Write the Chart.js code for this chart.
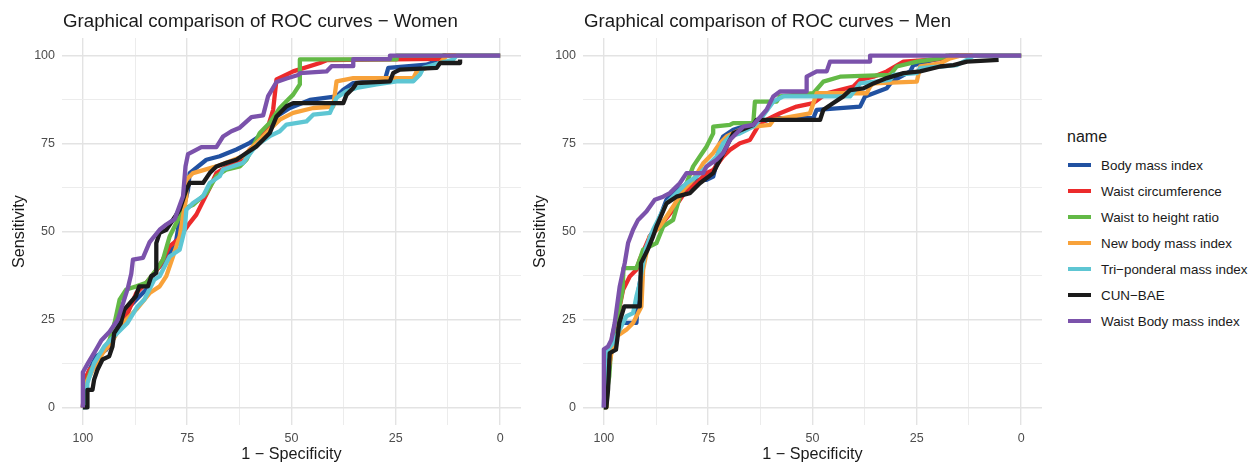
<!DOCTYPE html>
<html>
<head>
<meta charset="utf-8">
<script src="https://cdn.jsdelivr.net/npm/chart.js@4.4.0/dist/chart.umd.min.js"></script>
<style>
  body { margin: 0; background: #fff; font-family: "Liberation Sans", Arial, sans-serif; }
  #wrap { position: relative; width: 1255px; height: 465px; overflow: hidden; }
  canvas { position: absolute; top: 0; }
  #women { left: 0; }
  #men { left: 525px; }
  #legend { position: absolute; left: 1067px; top: 0; color: #1a1a1a; }
  #legend .ttl { position: absolute; top: 127px; left: 0; font-size: 16px; line-height: 20px; white-space: nowrap; }
  #legend .item { position: absolute; left: 1px; height: 26px; line-height: 26px; font-size: 13.4px; white-space: nowrap; }
  #legend .key { display: inline-block; width: 23px; height: 4px; vertical-align: middle; margin-right: 10px; position: relative; top: -1px; }
</style>
</head>
<body>
<div id="wrap">
  <canvas id="women" width="525" height="465"></canvas>
  <canvas id="men" width="525" height="465"></canvas>
  <div id="legend"></div>
</div>
<script>
// series names and colours (legend order)
const names = ["Body mass index", "Waist circumference", "Waist to height ratio",
  "New body mass index", "Tri\u2212ponderal mass index", "CUN\u2212BAE", "Waist Body mass index"];
const colors = ["#2151a1", "#ec2a2b", "#63b946", "#f8a23a", "#5ec6d3", "#1b1b1b", "#7b52ab"];

// axis ticks (labels every 25, grid every 12.5)
const gridSteps = [0, 12.5, 25, 37.5, 50, 62.5, 75, 87.5, 100];

// [specificity, sensitivity] points - Women
const womenBMI = [[100,0],[99.6,6.9],[98.4,10.7],[96.8,14.5],[94.4,16.4],[92.8,20.2],[91.2,24],[88.8,28.7],[86.4,31.6],[84.8,33.5],[82.4,39.1],[80,42],[77.6,47.7],[76.8,53.4],[75.6,58.1],[74.8,61.9],[74.4,66.6],[70.4,70.4],[67.2,71.4],[63.2,73.3],[60,75.2],[57.6,77.1],[53.6,82.7],[50.4,85.1],[45.6,87.4],[39.2,88.4],[37.6,90.3],[35.2,92.2],[27.6,93.2],[26.8,96.5],[17.6,97.4],[14.4,98.9],[13.6,100],[0,100]];
const womenWC = [[100,0],[99.6,7.9],[98.4,10.7],[96.8,12.6],[95.2,16.4],[93.6,17.3],[91.6,22.1],[89.6,25.9],[87.2,32.5],[84.8,35.4],[81.6,40.1],[79.2,45.8],[77.2,47.7],[74.4,52.4],[72.8,54.8],[69.6,62.4],[68,66.6],[64,69.5],[61.6,70.4],[60,73.3],[57.6,76.1],[55.6,79.9],[54.4,84.6],[53.6,93.2],[49.6,95.5],[43.2,97.9],[41.6,98.7],[25.6,98.9],[14.4,99.1],[13.6,100],[0,100]];
const womenWHtR = [[100,0],[99.2,6.9],[98,10.7],[96,14.5],[93.6,19.2],[92.4,24],[91.2,30.6],[89.6,33.5],[87.2,34.4],[84.8,35.4],[82.4,39.1],[80.8,42],[79.2,48.6],[77.6,52.4],[76,56.2],[73.6,57.6],[70.4,60.9],[68,65.7],[65.6,67.6],[62.4,68.5],[60.8,70.4],[59.2,74.2],[57.6,78],[55.2,80.9],[52.8,85.1],[49.6,88.9],[48,91.8],[48,98.9],[24.8,98.9],[24.8,100],[0,100]];
const womenNBMI = [[100,0],[99.2,6.9],[97.6,10.7],[95.2,15.5],[92.8,19.2],[90.4,24],[87.2,27.8],[84,32.5],[81.6,34.4],[80,37.3],[78.4,42.9],[76.8,48.6],[76,54.3],[75.2,60],[75.2,64.7],[73.6,66.6],[68,68.5],[61.6,71.4],[57.6,76.1],[54.4,79.9],[52.8,81.8],[49.6,83.7],[44.8,85.1],[40,85.5],[39.2,92.7],[35.2,93.6],[20.8,93.6],[20,95.5],[14.4,97.9],[12.8,100],[0,100]];
const womenTPMI = [[100,0],[99.2,0],[98.9,6.9],[97.3,12.6],[94.9,17.3],[92.5,20.2],[89.3,24],[86.9,28.7],[85.3,30.6],[82.9,36.3],[81.6,37.3],[79.2,42.9],[76.8,44.8],[75.6,50.5],[75.2,56.2],[73.6,58.1],[71.2,60],[69.6,63.8],[67.2,65.7],[66.4,67.6],[61.6,69.5],[59.2,73.3],[57.6,75.2],[55.2,77.1],[52.8,78.5],[51.2,80.4],[46.4,81.3],[44.8,83.2],[40.8,83.7],[39.2,88],[36.8,89.9],[34.4,90.8],[29.6,91.8],[24.8,92.7],[20.8,92.7],[19.2,94.6],[18.4,96.5],[14.4,97.9],[11.2,98.9],[10.4,100],[0,100]];
const womenCUN = [[100,0],[98.9,0],[98.9,5],[97.7,5],[97.3,7.9],[96.5,10.7],[95.3,13.6],[93.7,14.5],[92.9,17.3],[92.5,21.1],[90.9,24],[90.1,27.8],[87.3,31.6],[86.5,34.4],[84.4,34.4],[83.6,37.3],[82.4,38.2],[82.4,46.7],[81.6,49.6],[80,50.5],[76.8,56.2],[76,59.1],[75.2,61.9],[74.4,63.8],[71.2,63.8],[69.6,66.6],[68,68.5],[65.6,69.5],[63.2,70.4],[60.8,72.3],[58.4,74.2],[56.8,76.1],[55.2,78],[53.6,82.7],[51.2,85.6],[49.6,86.5],[37.6,86.5],[36.8,88.9],[35.2,90.8],[34.4,92.2],[26.4,92.7],[25.6,95.1],[24,96],[15.2,96.5],[14.4,97.9],[9.6,97.9],[9.6,98.9]];
const womenWBMI = [[100,0],[100,10],[98.8,12.5],[96.8,16.5],[95.6,19],[93.6,21.5],[91.6,25],[89.2,34],[88.4,38],[88,42],[85.6,42.5],[84,47],[81.6,50.5],[80,52],[78,53.5],[76,60],[75.4,68.5],[74.8,72],[71.6,74],[68,74],[66.4,77],[64.4,78.5],[62.4,79.5],[59.6,82.5],[56.8,83],[55.6,88.5],[53.6,92.5],[51.2,93.5],[48.4,94.5],[48,95],[41.6,95.5],[40.4,97],[35.2,97],[35.2,99],[26.4,99],[26.4,100],[0,100]];

// Men
const menBMI = [[100,0],[99.8,7.9],[99,12.6],[98.2,18.3],[97,22.1],[95.4,24],[92.2,24],[91.8,32.5],[90.6,41],[89,48.6],[87.4,51.4],[85,59],[83.4,60.9],[81,62.8],[77.8,64.7],[75.4,64.7],[73.8,65.6],[73,69.4],[72.2,75.1],[71.4,77],[69,78.9],[66.6,79.8],[64.2,80.3],[61.8,81.3],[59.4,82.2],[49.8,82.2],[49,84.6],[38.6,85.5],[37.4,88.4],[32.2,90.7],[31,92.6],[26.6,95.5],[25.8,97.3],[21,98.8],[15.4,100],[0,100]];
const menWC = [[100,0],[99.8,0],[99.4,5],[98.6,12.6],[98,20.2],[97,24.9],[96.2,28.7],[95.4,33.4],[93.8,37.2],[92.2,39.1],[91.4,42],[89,48.6],[86.6,51.4],[83.4,56.2],[80.2,61.8],[77.8,63.7],[75.4,66.6],[73.8,67.5],[71.4,71.3],[69.8,73.2],[67.4,75.1],[65,76],[62.6,80.8],[59.4,82.7],[57.8,83.6],[53.8,85.5],[49.8,86.5],[46.6,89.3],[40.2,91.2],[38.6,93.1],[35.4,94],[32.2,95.5],[28.2,98.3],[19.4,99],[17,100],[0,100]];
const menWHtR = [[100,0],[99.4,0],[99.1,6],[98.7,8.8],[98.3,16.4],[97.5,23],[96.7,25.9],[95.5,33.4],[95.3,39.6],[92.2,39.6],[91.4,42],[90.6,44.8],[87.4,46.7],[85.8,51.4],[83.4,53.3],[81.8,59.9],[80.2,63.7],[78.6,68.5],[77,71.3],[75.4,74.1],[73.8,77.9],[73.8,79.8],[69.8,80.3],[69,80.8],[64.2,80.8],[63.8,86.9],[58.6,86.9],[57.8,88.4],[49.8,89.3],[47.4,92.6],[43.4,94],[31.4,94.5],[29.8,96.9],[25,98.3],[19.4,99.2],[17.8,100],[0,100]];
const menNBMI = [[100,0],[99.4,0],[99.4,7.9],[98.2,15.4],[97,20.2],[94.6,22.1],[93,24],[91.8,26.8],[91,28.7],[90.6,39.1],[89,48.6],[86.6,51.4],[83.4,57.1],[81,61.8],[78.6,64.7],[76.2,69.4],[73.8,72.3],[72.2,75.1],[70.6,77],[67.4,78.9],[64.2,79.8],[60.2,80.3],[59.4,81.7],[50.6,83.6],[49,89.3],[37,89.3],[36.2,91.2],[35.4,92.1],[25,92.6],[24.2,96.9],[19.4,97.8],[17,99.2],[14.6,100],[0,100]];
const menTPMI = [[100,0],[99.7,0],[99.7,13.5],[99,16.4],[97.8,18.3],[96.2,22.1],[94.6,25.9],[93,26.8],[92.2,31.5],[91.4,35.3],[90.6,41],[89.8,45.7],[88.2,50.5],[86.6,54.3],[85,58],[82.6,60.9],[80.2,63.7],[77.8,65.6],[76.2,67.5],[74.6,69.4],[73,71.3],[71.4,75.1],[69.8,77],[67.4,77.9],[64.2,79.8],[62.6,81.7],[59.4,86.9],[57,88.4],[41,88.4],[38.6,92.1],[31.4,93.1],[30.6,94.5],[25,95],[24.2,96.4],[15.4,97.3],[13,98.8],[11.4,100],[0,100]];
const menCUN = [[100,0],[99.4,0],[99,5],[98.6,15.4],[97.1,16.4],[96.3,24],[95.1,28.7],[91.4,28.7],[91.1,41],[89.5,44.8],[88.2,48.6],[87.4,51.4],[85,58],[82.6,59.9],[79.4,60.9],[77,63.7],[73.8,66.6],[72.2,70.4],[70.6,74.1],[69,77.9],[64.2,80.3],[63.4,81.7],[48.2,81.7],[47.4,84.6],[45,86.5],[42.6,88.4],[41,90.2],[37.8,90.7],[35.4,92.1],[32.2,93.6],[28.2,95],[24.2,95.5],[19.4,96.9],[16.2,97.3],[13,98.3],[5.4,98.8]];
const menWBMI = [[100,0],[100,16.5],[99,17.3],[98.2,19.2],[97.4,24],[96.2,34.4],[95,41],[94.2,46.7],[93,50.5],[91.8,53.3],[89.8,55.7],[87.8,59],[85.8,59.9],[84.2,60.9],[81.8,63.7],[80.2,66.6],[76.2,66.6],[75.4,68.5],[73,70.4],[71.4,72.3],[69.8,76],[68.2,77.9],[66.6,79.8],[64.2,80.3],[61,84.6],[59.4,88.4],[57.8,89.8],[51.4,89.8],[51.4,94],[49,95.5],[46.6,95.5],[45.8,98.3],[36.2,98.3],[36.2,100],[0,100]];

const women = [womenBMI, womenWC, womenWHtR, womenNBMI, womenTPMI, womenCUN, womenWBMI];
const men = [menBMI, menWC, menWHtR, menNBMI, menTPMI, menCUN, menWBMI];

Chart.defaults.font.family = '"Liberation Sans", Arial, sans-serif';

// ggplot-style title over the panel
const panelTitle = {
    id: "panelTitle",
    afterDraw(chart, args, opts) {
        const ctx = chart.ctx;
        ctx.save();
        ctx.font = '18.7px "Liberation Sans", Arial, sans-serif';
        ctx.fillStyle = "#1a1a1a";
        ctx.textBaseline = "alphabetic";
        ctx.fillText(opts.text, chart.chartArea.left + 1, 27);
        ctx.restore();
    },
};

const gridColor = (c) => (c.tick && c.tick.value % 25 === 0 ? "#e3e3e3" : "#ececec");
const gridWidth = (c) => (c.tick && c.tick.value % 25 === 0 ? 1.4 : 1);

function makeChart(id, title, series, yWidth, yTitlePad, rightPad) {
    return new Chart(document.getElementById(id), {
        type: "line",
        data: {
            datasets: series.map((pts, i) => ({
                label: names[i],
                data: pts.map((p) => ({ x: p[0], y: p[1] })),
                borderColor: colors[i],
                backgroundColor: colors[i],
                borderWidth: 4.3,
                borderJoinStyle: "round",
                pointRadius: 0,
                tension: 0,
                fill: false,
                order: series.length - 1 - i,
            })),
        },
        options: {
            responsive: false,
            animation: false,
            events: [],
            layout: { padding: { top: 38, right: rightPad, left: 0, bottom: 0 } },
            plugins: {
                legend: { display: false },
                tooltip: { enabled: false },
                panelTitle: { text: title },
            },
            scales: {
                x: {
                    type: "linear",
                    reverse: true,
                    min: -5,
                    max: 105,
                    afterBuildTicks: (s) => {
                        s.ticks = gridSteps.map((v) => ({ value: v }));
                    },
                    afterFit: (s) => {
                        s.height = 40;
                    },
                    border: { display: false },
                    grid: { color: gridColor, lineWidth: gridWidth, drawTicks: false },
                    ticks: {
                        autoSkip: false,
                        maxRotation: 0,
                        padding: 6,
                        color: "#4d4d4d",
                        font: { size: 12.5 },
                        callback: (v) => (v % 25 === 0 ? v : ""),
                    },
                    title: {
                        display: true,
                        text: "1 \u2212 Specificity",
                        color: "#1a1a1a",
                        font: { size: 16.2, lineHeight: 1.2 },
                        padding: { top: 0, bottom: 1 },
                    },
                },
                y: {
                    type: "linear",
                    min: -5,
                    max: 105,
                    afterBuildTicks: (s) => {
                        s.ticks = gridSteps.map((v) => ({ value: v }));
                    },
                    afterFit: (s) => {
                        s.width = yWidth;
                    },
                    border: { display: false },
                    grid: { color: gridColor, lineWidth: gridWidth, drawTicks: false },
                    ticks: {
                        autoSkip: false,
                        padding: 7,
                        color: "#4d4d4d",
                        font: { size: 12.5 },
                        callback: (v) => (v % 25 === 0 ? v : ""),
                    },
                    title: {
                        display: true,
                        text: "Sensitivity",
                        color: "#1a1a1a",
                        font: { size: 16.2, lineHeight: 1.2 },
                        padding: { top: yTitlePad, bottom: 0 },
                    },
                },
            },
        },
        plugins: [panelTitle],
    });
}

makeChart("women", "Graphical comparison of ROC curves \u2212 Women", women, 62, 10.3, 4);
makeChart("men", "Graphical comparison of ROC curves \u2212 Men", men, 58, 6.3, 8);

// legend on the right
const legend = document.getElementById("legend");
legend.innerHTML = '<div class="ttl">name</div>' + names.map((n, i) =>
    `<div class="item" style="top:${153 + i * 26}px"><span class="key" style="background:${colors[i]}"></span>${n}</div>`
).join("");
</script>
</body>
</html>
